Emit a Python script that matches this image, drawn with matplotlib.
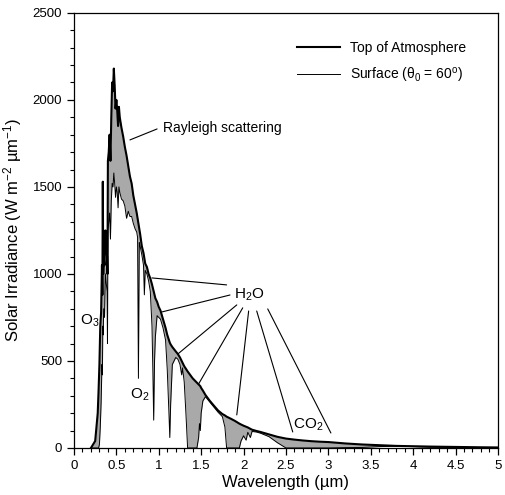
import numpy as np
import matplotlib
matplotlib.use("Agg")
import matplotlib.pyplot as plt
from matplotlib.ticker import MultipleLocator, FormatStrFormatter

plt.rcParams['font.family'] = ['Liberation Sans', 'DejaVu Sans']
plt.rcParams['mathtext.fontset'] = 'custom'
plt.rcParams['mathtext.rm'] = 'Liberation Sans'
plt.rcParams['mathtext.it'] = 'Liberation Sans:italic'

# Spectre solaire (W m-2 um-1)
wavelength = [0.20, 0.25, 0.28, 0.29, 0.30, 0.31, 0.32, 0.33, 0.335, 0.34,
              0.345, 0.35, 0.36, 0.37, 0.38, 0.39, 0.395, 0.40, 0.41, 0.42,
              0.43, 0.44, 0.45, 0.46, 0.47, 0.48, 0.49, 0.50, 0.51, 0.52,
              0.53, 0.54, 0.56, 0.58, 0.60, 0.62, 0.64, 0.66, 0.68, 0.70,
              0.72, 0.74, 0.75, 0.76, 0.77, 0.78, 0.80, 0.82, 0.83, 0.84,
              0.86, 0.88, 0.90, 0.92, 0.93, 0.94, 0.95, 0.96, 0.98, 1.00,
              1.02, 1.05, 1.08, 1.10, 1.12, 1.13, 1.14, 1.16, 1.20, 1.225,
              1.25, 1.27, 1.28, 1.30, 1.32, 1.34, 1.40, 1.45, 1.47, 1.48,
              1.49, 1.50, 1.52, 1.55, 1.60, 1.65, 1.70, 1.75, 1.78, 1.80,
              1.85, 1.90, 1.95, 1.97, 2.00, 2.03, 2.05, 2.08, 2.10, 2.15,
              2.20, 2.30, 2.40, 2.50, 2.60, 2.70, 2.80, 2.90, 3.00, 3.20,
              3.40, 3.60, 3.80, 4.00, 4.20, 4.50, 4.80, 5.00]

toa = [0, 40, 200, 330, 480, 700, 780, 1050, 880, 1530,
       1000, 1100, 1050, 1250, 1150, 1100, 1000, 1650, 1700, 1800,
       1650, 1900, 2100, 2050, 2180, 2080, 1950, 2000, 1940, 1850,
       1960, 1900, 1840, 1790, 1730, 1680, 1620, 1560, 1520, 1450,
       1400, 1350, 1320, 1290, 1260, 1230, 1160, 1120, 1090, 1060,
       1040, 1000, 975, 940, 920, 900, 880, 860, 840, 810,
       790, 740, 690, 650, 620, 605, 595, 580, 555, 540,
       520, 500, 490, 470, 455, 440, 400, 375, 365, 360,
       355, 345, 330, 305, 272, 243, 215, 195, 187, 180,
       168, 155, 140, 135, 128, 122, 118, 110, 105, 98,
       92, 78, 64, 54, 48, 43, 39, 36, 34, 26,
       20, 16, 12, 10, 8, 6, 4, 3]

surface = [0, 0, 0, 0, 20, 120, 260, 480, 420, 700,
           650, 800, 750, 1000, 950, 900, 600, 1250, 1300, 1350,
           1200, 1420, 1520, 1500, 1580, 1520, 1440, 1500, 1470, 1380,
           1500, 1470, 1430, 1420, 1390, 1320, 1360, 1330, 1330, 1290,
           1260, 1240, 1210, 400, 1180, 1160, 1110, 1050, 880, 1020,
           1000, 960, 900, 700, 450, 160, 500, 640, 760, 750,
           740, 690, 620, 450, 200, 60, 250, 480, 520, 510,
           480, 420, 460, 380, 200, 0, 0, 0, 60, 140,
           100, 200, 270, 295, 265, 235, 205, 180, 120, 0,
           0, 0, 0, 40, 70, 45, 90, 60, 95, 92,
           85, 65, 30, 0, 0, 0, 0, 0, 0, 2,
           3, 8, 10, 8, 4, 3, 2, 1]

x_ticks = [0, 0.5, 1, 1.5, 2, 2.5, 3, 3.5, 4, 4.5, 5]
y_ticks = [0, 500, 1000, 1500, 2000, 2500]

fig = plt.figure(figsize=(5.05, 4.95), dpi=100)
ax = fig.add_axes([0.1465, 0.095, 0.8395, 0.879])

ax.fill_between(wavelength, surface, toa, color='#a9a9a9', linewidth=0)
ax.plot(wavelength, toa, color='black', linewidth=1.5, label='Top of Atmosphere')
ax.plot(wavelength, surface, color='black', linewidth=0.7,
        label='Surface (θ$_0$ = 60$^{\\rm o}$)')

ax.set_xlim(0, 5)
ax.set_ylim(0, 2500)
ax.set_xticks(x_ticks)
ax.set_yticks(y_ticks)
ax.xaxis.set_major_formatter(FormatStrFormatter('%g'))
ax.xaxis.set_minor_locator(MultipleLocator(0.1))
ax.yaxis.set_minor_locator(MultipleLocator(100))
ax.tick_params(which='major', direction='out', length=5, width=0.9, labelsize=9.5)
ax.tick_params(which='minor', direction='out', length=3, width=0.8)
for s in ax.spines.values():
    s.set_linewidth(0.9)

ax.set_xlabel('Wavelength (µm)', fontsize=12, labelpad=2)
ax.set_ylabel('Solar Irradiance (W m$^{-2}$ µm$^{-1}$)', fontsize=12, labelpad=6)

ax.legend(loc='upper left', bbox_to_anchor=(0.526, 0.935), frameon=False,
          borderpad=0, borderaxespad=0, handlelength=3.1, handletextpad=0.7,
          labelspacing=0.75, fontsize=10)

# Annotations
line_kw = dict(arrowstyle='-', color='black', linewidth=0.8, shrinkA=0, shrinkB=0)
ax.annotate('', xy=(0.66, 1770), xytext=(0.98, 1833), arrowprops=line_kw)
ax.text(1.05, 1838, 'Rayleigh scattering', fontsize=10, va='center', ha='left')

ax.text(2.07, 879, 'H$_2$O', fontsize=11, va='center', ha='center')
h2o_lines = [((0.92, 977), (1.80, 937)),
             ((1.04, 782), (1.84, 879)),
             ((1.225, 540), (1.92, 822)),
             ((1.47, 368), (1.99, 805)),
             ((1.92, 190), (2.06, 787)),
             ((2.58, 92), (2.155, 787)),
             ((3.03, 86), (2.285, 799))]
for end, start in h2o_lines:
    ax.annotate('', xy=end, xytext=start, arrowprops=line_kw)

ax.text(0.19, 730, 'O$_3$', fontsize=11, va='center', ha='center')
ax.text(0.78, 305, 'O$_2$', fontsize=11, va='center', ha='center')
ax.text(2.76, 132, 'CO$_2$', fontsize=11, va='center', ha='center')

plt.savefig('out.png', dpi=100)
